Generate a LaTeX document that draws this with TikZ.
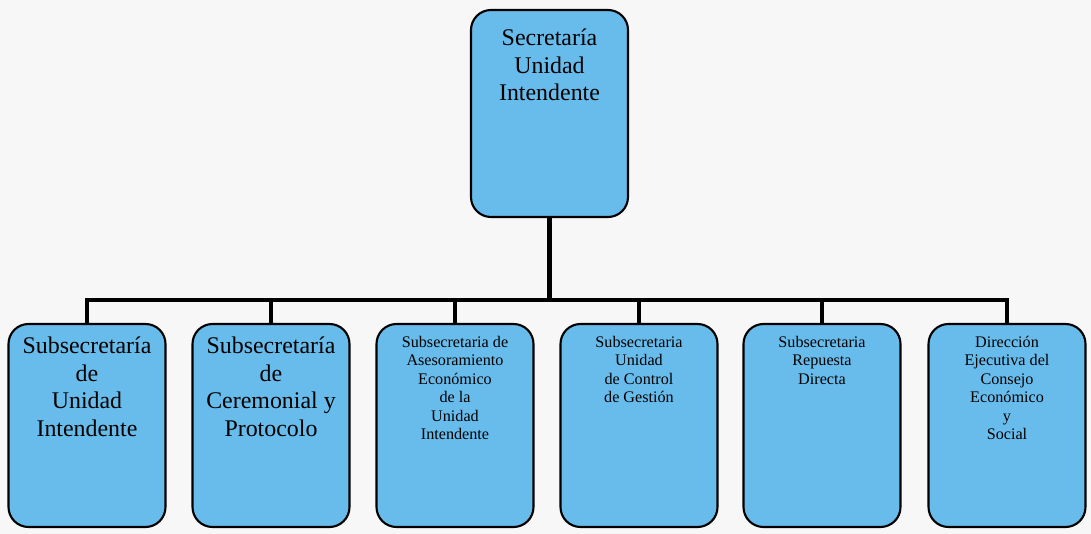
\documentclass[tikz,border=0pt]{standalone}
\usepackage{fontspec}
\setmainfont{Liberation Serif}
\definecolor{cajaazul}{RGB}{104,188,236}
\definecolor{fondo}{RGB}{247,247,247}

\begin{document}
\begin{tikzpicture}[
    caja/.style={draw=black, line width=1.2pt, rounded corners=0.4cm, fill=cajaazul,
        minimum width=3.14cm, minimum height=4.06cm, inner sep=0pt},
    grande/.style={font=\fontsize{13.6}{15.6}\selectfont, align=center, inner sep=0pt, anchor=north, yshift=-0.28cm},
    chica/.style={font=\fontsize{9.2}{10.5}\selectfont, align=center, inner sep=0pt, anchor=north, yshift=-0.26cm},
    linea/.style={line width=2.8pt, line cap=rect}
]
    \fill[fondo] (0,0) rectangle (21.82,10.68);

    \node[caja, minimum height=4.14cm,
        label={[grande, yshift=-0.12cm]north:{Secretaría\\Unidad\\Intendente}}] (sec) at (10.99,8.41) {};

    \node[caja, label={[grande]north:{Subsecretaría\\de\\Unidad\\Intendente}}] (sub1) at (1.74,2.17) {};
    \node[caja, label={[grande]north:{Subsecretaría\\de\\Ceremonial y\\Protocolo}}] (sub2) at (5.42,2.17) {};
    \node[caja, label={[chica]north:{Subsecretaria de\\Asesoramiento\\Económico\\de la\\Unidad\\Intendente}}] (sub3) at (9.10,2.17) {};
    \node[caja, label={[chica]north:{Subsecretaria\\Unidad\\de Control\\de Gestión}}] (sub4) at (12.78,2.17) {};
    \node[caja, label={[chica]north:{Subsecretaria\\Repuesta\\Directa}}] (sub5) at (16.44,2.17) {};
    \node[caja, label={[chica]north:{Dirección\\Ejecutiva del\\Consejo\\Económico\\y\\Social}}] (sub6) at (20.14,2.17) {};

    \coordinate (bar) at (10.99,4.68);
    \draw[linea] (sec.south) -- (sec.south |- bar);
    \draw[linea] (sub1.north |- bar) -- (sub6.north |- bar);
    \foreach \i in {1,...,6}
        \draw[linea] (sub\i.north |- bar) -- (sub\i.north);
\end{tikzpicture}
\end{document}
